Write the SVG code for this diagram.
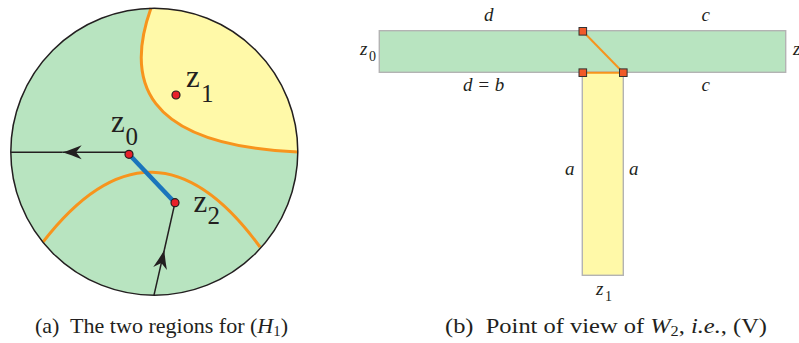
<svg xmlns="http://www.w3.org/2000/svg" width="799" height="343" viewBox="0 0 799 343">
  <style>
    .green { fill: #b8e4c0; }
    .yellow { fill: #fff9a8; }
    .orange { fill: none; stroke: #f7941d; stroke-width: 3; }
    .conn { fill: none; stroke: #231f20; stroke-width: 1.5; }
    .dot { fill: #e8202a; stroke: #231f20; stroke-width: 1.2; }
    .lbl { font-family: "Liberation Serif", "Times New Roman", serif; fill: #231f20; }
    .big { font-size: 31px; }
    .sub { font-size: 25px; }
    .it { font-family: "Liberation Serif", "Times New Roman", serif; font-style: italic; fill: #231f20; font-size: 19px; }
    .itsub { font-family: "Liberation Serif", "Times New Roman", serif; fill: #231f20; font-size: 14px; }
    .cap { font-family: "Liberation Serif", "Times New Roman", serif; fill: #231f20; font-size: 21px; }
    .box { stroke: #b3b3b3; stroke-width: 1.4; }
    .sq { fill: #f15a29; stroke: #333333; stroke-width: 1; }
    .oline { fill: none; stroke: #f7941d; stroke-width: 2; }
  </style>
  <defs>
    <marker id="arrow" viewBox="-20 -8 21 16" refX="0" refY="0" markerWidth="21" markerHeight="16" markerUnits="userSpaceOnUse" orient="auto">
      <path d="M0,0 Q-8,-2.5 -19,-7 L-13.3,0 L-19,7 Q-8,2.5 0,0 Z" fill="#231f20"/>
    </marker>
  </defs>

  <!-- Panel (a) -->
  <g id="disk">
    <circle cx="154.3" cy="151.7" r="143.5" class="green"/>
    <path id="region-h1" class="yellow" d="M151,8 C126,78 140,145 297.8,152 A143.5,143.5 0 0 0 151,8 Z"/>
    <path class="orange" d="M151,8 C126,78 140,145 297.8,152"/>
    <path class="orange" d="M43,242 Q153,100 260,247"/>
    <circle cx="154.3" cy="151.7" r="143.5" fill="none" stroke="#231f20" stroke-width="1.5"/>
  </g>

  <g id="connectors">
    <line x1="129" y1="152.3" x2="62.7" y2="152.3" class="conn" marker-end="url(#arrow)"/>
    <line x1="62.7" y1="152.3" x2="10.8" y2="152.3" class="conn"/>
    <line x1="154" y1="295.2" x2="164.3" y2="250" class="conn" marker-end="url(#arrow)"/>
    <line x1="164.3" y1="250" x2="175" y2="202.7" class="conn"/>
    <line x1="129" y1="154.3" x2="175" y2="202.7" stroke="#1b75bc" stroke-width="4.5"/>
  </g>

  <g id="z0">
    <circle cx="129" cy="154.3" r="4" class="dot"/>
    <text class="lbl big" x="111" y="131.7">z</text>
    <text class="lbl sub" x="125.5" y="145">0</text>
  </g>
  <g id="z1">
    <circle cx="176" cy="95" r="4" class="dot"/>
    <text class="lbl big" x="186" y="86.7">z</text>
    <text class="lbl sub" x="201" y="102">1</text>
  </g>
  <g id="z2">
    <circle cx="175" cy="202.7" r="4" class="dot"/>
    <text class="lbl big" x="193.5" y="211.7">z</text>
    <text class="lbl sub" x="207.5" y="224">2</text>
  </g>

  <!-- Panel (b) -->
  <g id="green-strip">
    <rect x="379.3" y="30.7" width="406.4" height="41.6" class="green box"/>
  </g>
  <g id="yellow-strip">
    <rect x="582.3" y="72.3" width="41" height="203" class="yellow box"/>
  </g>
  <g id="orange-path">
    <line x1="582.8" y1="31.3" x2="623.3" y2="72.7" class="oline"/>
    <line x1="582.8" y1="72.7" x2="623.3" y2="72.7" class="oline"/>
  </g>
  <g id="sq1"><rect x="579" y="27.5" width="7.6" height="7.6" class="sq"/></g>
  <g id="sq2"><rect x="579" y="68.9" width="7.6" height="7.6" class="sq"/></g>
  <g id="sq3"><rect x="619.5" y="68.9" width="7.6" height="7.6" class="sq"/></g>

  <g id="labels-b">
    <text class="it" x="484" y="20.7">d</text>
    <text class="it" x="701.5" y="20.7">c</text>
    <text class="it" x="360" y="55">z</text>
    <text class="itsub" x="369" y="61">0</text>
    <text class="it" x="793" y="55">z</text>
    <text class="it" x="463" y="90.7">d = b</text>
    <text class="it" x="701.5" y="90.7">c</text>
    <text class="it" x="565" y="175">a</text>
    <text class="it" x="629" y="175">a</text>
    <text class="it" x="596" y="295">z</text>
    <text class="itsub" x="605" y="300.5">1</text>
  </g>

  <g id="captions">
    <text class="cap" x="35" y="333" xml:space="preserve" textLength="253" lengthAdjust="spacingAndGlyphs">(a)  The two regions for (<tspan font-style="italic">H</tspan><tspan font-size="14" dy="3">1</tspan><tspan dy="-3">)</tspan></text>
    <text class="cap" x="445" y="333" xml:space="preserve" textLength="322" lengthAdjust="spacingAndGlyphs">(b)  Point of view of <tspan font-style="italic">W</tspan><tspan font-size="14" dy="3">2</tspan><tspan dy="-3">, </tspan><tspan font-style="italic">i.e.</tspan>, (V)</text>
  </g>
</svg>
